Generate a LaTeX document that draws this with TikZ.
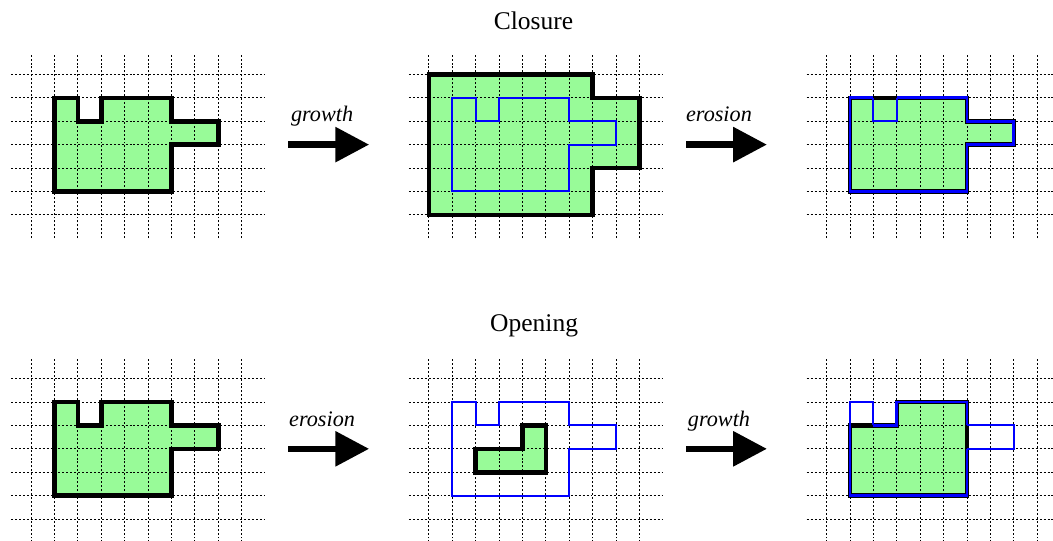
\documentclass[tikz,border=0pt]{standalone}
\usepackage{fontspec}
\setmainfont{Liberation Serif}
\usetikzlibrary{arrows.meta}

\definecolor{cellgreen}{RGB}{152,251,152}

% shapes, in cells of one panel
\newcommand{\origpath}{(1,5) -- (2,5) -- (2,4) -- (3,4) -- (3,5) -- (6,5) -- (6,4) -- (8,4) -- (8,3) -- (6,3) -- (6,1) -- (1,1) -- cycle}
\newcommand{\grownpath}{(0,6) -- (7,6) -- (7,5) -- (9,5) -- (9,2) -- (7,2) -- (7,0) -- (0,0) -- cycle}
\newcommand{\closedpath}{(1,5) -- (6,5) -- (6,4) -- (8,4) -- (8,3) -- (6,3) -- (6,1) -- (1,1) -- cycle}
\newcommand{\erodedpath}{(2,3) -- (4,3) -- (4,4) -- (5,4) -- (5,2) -- (2,2) -- cycle}
\newcommand{\openedpath}{(1,4) -- (3,4) -- (3,5) -- (6,5) -- (6,1) -- (1,1) -- cycle}

\newcommand{\dotgrid}{%
\foreach \gx in {0,...,9} \draw[gridline] (\gx,-1) -- (\gx,6.9);
\foreach \gy in {0,...,6} \draw[gridline] (-0.85,\gy) -- (10,\gy);
}

\tikzset{
  gridline/.style={black, line width=0.45pt, dash pattern=on 1.2pt off 1.2pt},
  region/.style={fill=cellgreen},
  outline/.style={black, line width=2.8pt},
  origline/.style={blue, line width=1.2pt},
  origthick/.style={blue, line width=1.7pt},
  bigarrow/.style={line width=4pt, -{Triangle[length=20.5pt,width=20.5pt]}},
  title/.style={font=\fontsize{15.5}{18}\selectfont, anchor=base},
  oplabel/.style={font=\fontsize{13.5}{16}\selectfont\itshape, anchor=base},
}

\begin{document}
\begin{tikzpicture}[x=0.5cm, y=0.5cm]
\useasboundingbox (-1.325,-0.897) rectangle (43.675,22.18);

\node[title] (closure) at (21.47,20.9) {Closure};
\node[title] (opening) at (21.5,8.0) {Opening};

% closure, top row
\begin{scope}[shift={(0,13)}]
\fill[region] \origpath;
\dotgrid
\draw[outline] \origpath;
\end{scope}

\begin{scope}[shift={(17,13)}]
\fill[region] \grownpath;
\dotgrid
\draw[outline] \grownpath;
\draw[origline] \origpath;
\end{scope}

\begin{scope}[shift={(34,13)}]
\fill[region] \closedpath;
\dotgrid
\draw[outline] \closedpath;
\draw[origthick] (2,5) -- (1,5) -- (1,1) -- (6,1) -- (6,3) -- (8,3) -- (8,4) -- (6,4) -- (6,5) -- (3,5);
\draw[origline] (2,5) -- (2,4) -- (3,4) -- (3,5);
\end{scope}

\coordinate (grow1s) at (11,16);
\coordinate (grow1e) at (14.45,16);
\draw[bigarrow] (grow1s) -- (grow1e);
\node[oplabel] (grow1lab) at (12.44,16.97) {growth};

\coordinate (erode1s) at (28,16);
\coordinate (erode1e) at (31.45,16);
\draw[bigarrow] (erode1s) -- (erode1e);
\node[oplabel] (erode1lab) at (29.4,16.97) {erosion};

% opening, bottom row
\begin{scope}[shift={(0,0)}]
\fill[region] \origpath;
\dotgrid
\draw[outline] \origpath;
\end{scope}

\begin{scope}[shift={(17,0)}]
\fill[region] \erodedpath;
\dotgrid
\draw[origline] \origpath;
\draw[outline] \erodedpath;
\end{scope}

\begin{scope}[shift={(34,0)}]
\fill[region] \openedpath;
\dotgrid
\draw[outline] \openedpath;
\draw[origthick] (1,4) -- (1,1) -- (6,1) -- (6,3);
\draw[origthick] (6,4) -- (6,5) -- (3,5) -- (3,4) -- (2,4);
\draw[origline] (2,4) -- (2,5) -- (1,5) -- (1,4);
\draw[origline] (6,3) -- (8,3) -- (8,4) -- (6,4);
\end{scope}

\coordinate (erode2s) at (11,3);
\coordinate (erode2e) at (14.45,3);
\draw[bigarrow] (erode2s) -- (erode2e);
\node[oplabel] (erode2lab) at (12.44,3.97) {erosion};

\coordinate (grow2s) at (28,3);
\coordinate (grow2e) at (31.45,3);
\draw[bigarrow] (grow2s) -- (grow2e);
\node[oplabel] (grow2lab) at (29.4,3.97) {growth};

\end{tikzpicture}
\end{document}
